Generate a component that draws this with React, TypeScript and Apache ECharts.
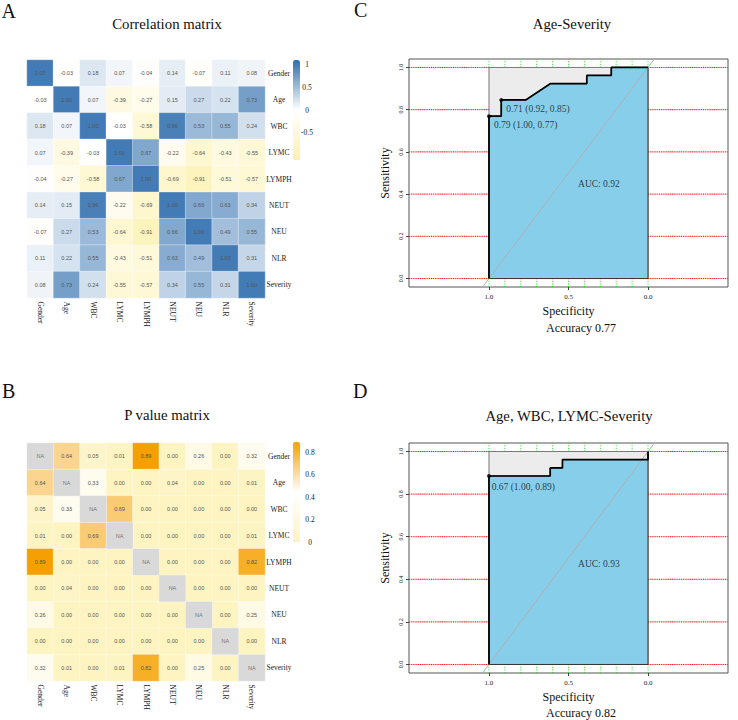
import React, { useEffect, useRef } from "react";
import * as echarts from "echarts";

const SERIF = "'Liberation Serif','Times New Roman',serif";
const SANS = "'Liberation Sans',Arial,sans-serif";

// ---------- Data ----------
const variables = ["Gender", "Age", "WBC", "LYMC", "LYMPH", "NEUT", "NEU", "NLR", "Severity"];

const corrGender = [1.0, -0.03, 0.18, 0.07, -0.04, 0.14, -0.07, 0.11, 0.08];
const corrAge = [-0.03, 1.0, 0.07, -0.39, -0.27, 0.15, 0.27, 0.22, 0.73];
const corrWBC = [0.18, 0.07, 1.0, -0.03, -0.58, 0.96, 0.53, 0.55, 0.24];
const corrLYMC = [0.07, -0.39, -0.03, 1.0, 0.67, -0.22, -0.64, -0.43, -0.55];
const corrLYMPH = [-0.04, -0.27, -0.58, 0.67, 1.0, -0.69, -0.91, -0.51, -0.57];
const corrNEUT = [0.14, 0.15, 0.96, -0.22, -0.69, 1.0, 0.66, 0.63, 0.34];
const corrNEU = [-0.07, 0.27, 0.53, -0.64, -0.91, 0.66, 1.0, 0.49, 0.55];
const corrNLR = [0.11, 0.22, 0.55, -0.43, -0.51, 0.63, 0.49, 1.0, 0.31];
const corrSeverity = [0.08, 0.73, 0.24, -0.55, -0.57, 0.34, 0.55, 0.31, 1.0];
const corrRows = [corrGender, corrAge, corrWBC, corrLYMC, corrLYMPH, corrNEUT, corrNEU, corrNLR, corrSeverity];

const pGender = [null, 0.64, 0.05, 0.01, 0.89, 0.0, 0.26, 0.0, 0.32];
const pAge = [0.64, null, 0.33, 0.0, 0.0, 0.04, 0.0, 0.0, 0.01];
const pWBC = [0.05, 0.33, null, 0.69, 0.0, 0.0, 0.0, 0.0, 0.0];
const pLYMC = [0.01, 0.0, 0.69, null, 0.0, 0.0, 0.0, 0.0, 0.01];
const pLYMPH = [0.89, 0.0, 0.0, 0.0, null, 0.0, 0.0, 0.0, 0.82];
const pNEUT = [0.0, 0.04, 0.0, 0.0, 0.0, null, 0.0, 0.0, 0.0];
const pNEU = [0.26, 0.0, 0.0, 0.0, 0.0, 0.0, null, 0.0, 0.25];
const pNLR = [0.0, 0.0, 0.0, 0.0, 0.0, 0.0, 0.0, null, 0.0];
const pSeverity = [0.32, 0.01, 0.0, 0.01, 0.82, 0.0, 0.25, 0.0, null];
const pRows = [pGender, pAge, pWBC, pLYMC, pLYMPH, pNEUT, pNEU, pNLR, pSeverity];

const corrLegendTicks = [1, 0.5, 0, -0.5];
const pLegendTicks = [0.8, 0.6, 0.4, 0.2, 0];

// ROC C: Age-Severity
const rocCSpec = [1, 1, 0.923, 0.923, 0.769, 0.615, 0.385, 0.385, 0.231, 0.231, 0];
const rocCSens = [0, 0.769, 0.769, 0.846, 0.846, 0.923, 0.923, 0.962, 0.962, 1, 1];
const thrCSpec = [1.0, 0.923];
const thrCSens = [0.769, 0.846];
const thrCLabels = ["0.79 (1.00, 0.77)", "0.71 (0.92, 0.85)"];
const aucC = 0.92;
const accC = 0.77;

// ROC D: Age, WBC, LYMC-Severity
const rocDSpec = [1, 1, 0.615, 0.615, 0.538, 0.538, 0, 0];
const rocDSens = [0, 0.885, 0.885, 0.923, 0.923, 0.962, 0.962, 1];
const thrDSpec = [1.0];
const thrDSens = [0.885];
const thrDLabels = ["0.67 (1.00, 0.89)"];
const aucD = 0.93;
const accD = 0.82;

const rocTitles = ["Age-Severity", "Age, WBC, LYMC-Severity"];
const sensTicks = [0, 0.2, 0.4, 0.6, 0.8, 1.0];
const specTicks = [0, 0.5, 1.0];
const specGrid = [0, 0.1, 0.2, 0.3, 0.4, 0.5, 0.6, 0.7, 0.8, 0.9, 1.0];

// ---------- Layout ----------
const heatGrids = [
  { left: 27, top: 60, width: 238, height: 238 },
  { left: 27, top: 443, width: 238, height: 238 },
];
const rocGrids = [
  { left: 409, top: 59, width: 319, height: 228 },
  { left: 409, top: 443, width: 319, height: 230 },
];
const X_MIN = -0.503;
const X_MAX = 1.503;
const Y_MIN = -0.04;
const Y_MAX = 1.04;

function buildOption() {
  const corrData: any[] = [];
  corrRows.forEach((row, r) => row.forEach((v, c) => corrData.push([c, r, v])));
  const pData: any[] = [];
  const naData: any[] = [];
  pRows.forEach((row, r) =>
    row.forEach((v, c) => {
      if (v === null) naData.push([c, r, 0]);
      else pData.push([c, r, v]);
    })
  );

  const rocs = [
    {
      spec: rocCSpec, sens: rocCSens, thrSpec: thrCSpec, thrSens: thrCSens, thrLabels: thrCLabels,
      auc: aucC, acc: accC, aucPos: [0.44, 0.45], thrOffset: [7, 11.2],
    },
    {
      spec: rocDSpec, sens: rocDSens, thrSpec: thrDSpec, thrSens: thrDSens, thrLabels: thrDLabels,
      auc: aucD, acc: accD, aucPos: [0.44, 0.473], thrOffset: [4.7, 13],
    },
  ];

  const grid: any[] = [...heatGrids, ...rocGrids].map((g, i) => ({
    ...g,
    containLabel: false,
    show: i >= 2,
    borderColor: "#555",
    borderWidth: 1,
    backgroundColor: "transparent",
  }));

  const xAxis: any[] = [];
  const yAxis: any[] = [];
  [0, 1].forEach((i) => {
    xAxis.push({
      type: "category",
      gridIndex: i,
      data: variables,
      axisLine: { show: false },
      axisTick: { show: false },
      splitLine: { show: false },
      axisLabel: { rotate: -90, margin: 3.5, fontSize: 7.5, fontFamily: SERIF, color: "#222", interval: 0 },
    });
    yAxis.push({
      type: "category",
      gridIndex: i,
      data: variables,
      inverse: true,
      position: "right",
      axisLine: { show: false },
      axisTick: { show: false },
      splitLine: { show: false },
      axisLabel: { align: "center", margin: 14, fontSize: 7.5, fontFamily: SERIF, color: "#222", interval: 0 },
    });
  });
  [0, 1].forEach((k) => {
    xAxis.push({
      type: "value",
      gridIndex: 2 + k,
      min: X_MIN,
      max: X_MAX,
      inverse: true,
      axisLine: { show: false, onZero: false },
      splitLine: { show: false },
      axisTick: { show: true, length: 3, customValues: specTicks, lineStyle: { color: "#444" } },
      axisLabel: {
        customValues: specTicks,
        formatter: (v: number) => v.toFixed(1),
        fontSize: 7,
        margin: 6,
        fontFamily: SERIF,
        color: "#222",
      },
      name: "Specificity",
      nameLocation: "middle",
      nameGap: 18,
      nameTextStyle: { fontSize: 12, fontFamily: SERIF, color: "#111" },
    });
    yAxis.push({
      type: "value",
      gridIndex: 2 + k,
      min: Y_MIN,
      max: Y_MAX,
      axisLine: { show: false, onZero: false },
      splitLine: { show: false },
      axisTick: { show: true, length: 3, customValues: sensTicks, lineStyle: { color: "#444" } },
      axisLabel: {
        customValues: sensTicks,
        formatter: (v: number) => v.toFixed(1),
        rotate: 90,
        fontSize: 6,
        margin: 5,
        fontFamily: SERIF,
        color: "#222",
      },
      name: "Sensitivity",
      nameLocation: "middle",
      nameGap: 18,
      nameTextStyle: { fontSize: 12, fontFamily: SERIF, color: "#111" },
    });
  });

  const heatLabel = {
    show: true,
    fontSize: 5.5,
    fontFamily: SANS,
    color: "#555",
    formatter: (p: any) => p.value[2].toFixed(2),
  };

  const series: any[] = [
    {
      type: "heatmap",
      name: "Correlation",
      xAxisIndex: 0,
      yAxisIndex: 0,
      data: corrData,
      silent: true,
      itemStyle: { borderColor: "rgba(255,255,255,0.7)", borderWidth: 0.5 },
      label: heatLabel,
      emphasis: { disabled: true },
    },
    {
      type: "heatmap",
      name: "P value",
      xAxisIndex: 1,
      yAxisIndex: 1,
      data: pData,
      silent: true,
      itemStyle: { borderColor: "rgba(255,255,255,0.7)", borderWidth: 0.5 },
      label: heatLabel,
      emphasis: { disabled: true },
    },
    {
      type: "heatmap",
      name: "NA",
      xAxisIndex: 1,
      yAxisIndex: 1,
      data: naData,
      silent: true,
      itemStyle: { borderColor: "rgba(255,255,255,0.7)", borderWidth: 0.5 },
      label: { show: true, fontSize: 5.5, fontFamily: SANS, color: "#777", formatter: () => "NA" },
      emphasis: { disabled: true },
    },
  ];

  const segment = (xi: number, pts: number[][], lineStyle: any) => ({
    type: "line",
    xAxisIndex: xi,
    yAxisIndex: xi,
    data: pts,
    symbol: "none",
    silent: true,
    z: 1,
    lineStyle,
  });
  const redUnder = { color: "#ffc4c4", width: 1, type: "solid" };
  const redDots = { color: "#ff0000", width: 1, type: [1, 1.2] };
  const greenDots = { color: "#1fdc1f", width: 1, type: [1, 1.6] };

  rocs.forEach((roc, k) => {
    const xi = 2 + k;
    const curve = roc.spec.map((s, i) => [s, roc.sens[i]]);
    // horizontal red dotted grid lines (visible outside the ROC square)
    sensTicks.forEach((v) => {
      [[[X_MAX, v], [1, v]], [[0, v], [X_MIN, v]]].forEach((pts) => {
        series.push(segment(xi, pts, redUnder));
        series.push(segment(xi, pts, redDots));
      });
    });
    // vertical green dotted grid lines (visible above and below the ROC square)
    specGrid.forEach((v) => {
      [[[v, Y_MIN], [v, 0]], [[v, 1], [v, Y_MAX]]].forEach((pts) => {
        series.push(segment(xi, pts, greenDots));
      });
    });
    series.push({
      type: "line",
      xAxisIndex: xi,
      yAxisIndex: xi,
      data: [[1, 0], [1, 1], [0, 1], [0, 0]],
      symbol: "none",
      silent: true,
      z: 2,
      lineStyle: { color: "#777", width: 1 },
      areaStyle: { color: "#ececec", opacity: 1 },
    });
    series.push({
      type: "line",
      xAxisIndex: xi,
      yAxisIndex: xi,
      data: [...curve, [0, 0], [1, 0]],
      symbol: "none",
      silent: true,
      z: 3,
      lineStyle: { color: "#333", width: 1 },
      areaStyle: { color: "#87ceeb", opacity: 1 },
    });
    series.push({
      type: "line",
      xAxisIndex: xi,
      yAxisIndex: xi,
      data: [[1 - Y_MIN, Y_MIN], [1 - Y_MAX, Y_MAX]],
      symbol: "none",
      silent: true,
      z: 4,
      lineStyle: { color: "#b0b0b0", width: 1 },
    });
    series.push({
      type: "line",
      name: rocTitles[k],
      xAxisIndex: xi,
      yAxisIndex: xi,
      data: curve,
      symbol: "none",
      silent: true,
      z: 5,
      lineStyle: { color: "#000", width: 1.7 },
    });
    series.push({
      type: "scatter",
      xAxisIndex: xi,
      yAxisIndex: xi,
      symbolSize: 4,
      silent: true,
      z: 6,
      itemStyle: { color: "#000" },
      data: roc.thrSpec.map((s, i) => ({ value: [s, roc.thrSens[i]], name: roc.thrLabels[i] })),
      label: {
        show: true,
        position: roc.thrOffset,
        align: "left",
        verticalAlign: "middle",
        fontSize: 9.5,
        fontFamily: SERIF,
        color: "#111",
        formatter: (p: any) => p.name,
      },
    });
    series.push({
      type: "scatter",
      xAxisIndex: xi,
      yAxisIndex: xi,
      symbolSize: 1,
      silent: true,
      z: 6,
      itemStyle: { color: "rgba(0,0,0,0)" },
      data: [{ value: roc.aucPos, name: `AUC: ${roc.auc.toFixed(2)}` }],
      label: {
        show: true,
        position: [0.5, 0.5],
        align: "left",
        verticalAlign: "middle",
        fontSize: 9.5,
        fontFamily: SERIF,
        color: "#111",
        formatter: (p: any) => p.name,
      },
    });
  });

  const titleStyle = (size: number) => ({ fontSize: size, fontWeight: "normal", fontFamily: SERIF, color: "#111" });
  const title: any[] = [
    { text: "A", left: 1.5, top: 0.5, padding: 0, textStyle: titleStyle(20) },
    { text: "B", left: 2, top: 380.5, padding: 0, textStyle: titleStyle(20) },
    { text: "C", left: 354, top: 0, padding: 0, textStyle: titleStyle(20) },
    { text: "D", left: 353, top: 380.5, padding: 0, textStyle: titleStyle(20) },
    { text: "Correlation matrix", left: 167, top: 16.5, padding: 0, textAlign: "center", textStyle: titleStyle(14.8) },
    { text: "P value matrix", left: 167, top: 407, padding: 0, textAlign: "center", textStyle: titleStyle(14.8) },
    { text: rocTitles[0], left: 572, top: 16.5, padding: 0, textAlign: "center", textStyle: titleStyle(14.7) },
    { text: rocTitles[1], left: 569, top: 408, padding: 0, textAlign: "center", textStyle: titleStyle(14.7) },
  ];

  const corrMin = -1.1;
  const corrMax = 1.1;
  const pMin = 0;
  const pMax = 0.89;
  const barTopC = 60;
  const barTopP = 442;
  const barH = 100;

  const visualMap: any[] = [
    {
      type: "continuous",
      seriesIndex: 0,
      min: corrMin,
      max: corrMax,
      calculable: false,
      hoverLink: false,
      orient: "vertical",
      left: 293,
      top: barTopC,
      padding: 0,
      itemWidth: 7,
      itemHeight: barH,
      text: null,
      textStyle: { color: "#222" },
      inRange: { color: ["#fdf1ae", "#ffffff", "#2f6eae"] },
    },
    {
      type: "continuous",
      seriesIndex: 1,
      min: pMin,
      max: pMax,
      calculable: false,
      hoverLink: false,
      orient: "vertical",
      left: 293,
      top: barTopP,
      padding: 0,
      itemWidth: 7,
      itemHeight: barH,
      text: null,
      textStyle: { color: "#222" },
      inRange: { color: ["#fdf4c2", "#ffffff", "#f5a000"] },
    },
    {
      type: "continuous",
      seriesIndex: 2,
      min: 0,
      max: 1,
      show: false,
      inRange: { color: ["#d9d9d9", "#d9d9d9"] },
    },
  ];

  const legendText = (text: string, x: number, y: number) => ({
    type: "text",
    x,
    y,
    z: 100,
    silent: true,
    style: { text, fontSize: 7.5, fontFamily: SERIF, fill: "#222222", align: "center", verticalAlign: "middle" },
  });

  const graphic: any[] = [
    ...corrLegendTicks.map((v) =>
      legendText(String(v), 307, barTopC + ((corrMax - v) / (corrMax - corrMin)) * barH)
    ),
    ...pLegendTicks.map((v) => legendText(String(v), 310, barTopP + ((pMax - v) / (pMax - pMin)) * barH)),
    {
      type: "text",
      x: 546,
      y: 328,
      silent: true,
      style: { text: `Accuracy ${accC.toFixed(2)}`, fontSize: 12, fontFamily: SERIF, fill: "#111", align: "left", verticalAlign: "middle" },
    },
    {
      type: "text",
      x: 546,
      y: 713,
      silent: true,
      style: { text: `Accuracy ${accD.toFixed(2)}`, fontSize: 12, fontFamily: SERIF, fill: "#111", align: "left", verticalAlign: "middle" },
    },
  ];

  return {
    animation: false,
    backgroundColor: "#ffffff",
    title,
    grid,
    xAxis,
    yAxis,
    visualMap,
    series,
    graphic,
  };
}

export default function App() {
  const ref = useRef<HTMLDivElement>(null);
  useEffect(() => {
    document.body.style.margin = "0";
    if (!ref.current) return;
    const chart = echarts.init(ref.current, null, { renderer: "svg" });
    chart.setOption(buildOption() as any);
    return () => chart.dispose();
  }, []);
  return <div ref={ref} style={{ width: 738, height: 720 }} />;
}
